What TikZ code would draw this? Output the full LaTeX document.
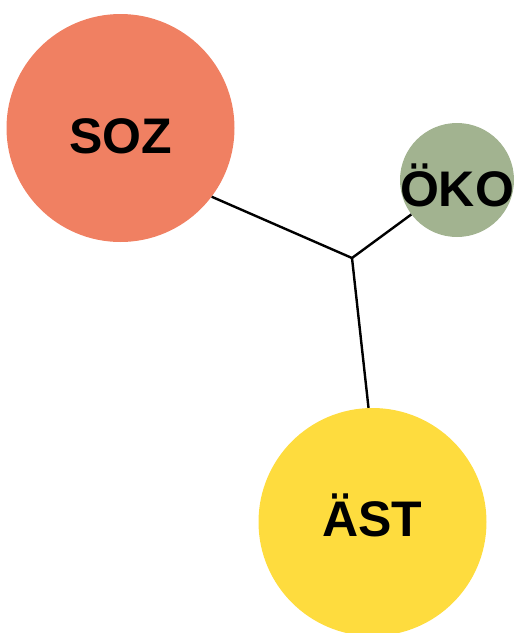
\documentclass[tikz,border=0pt]{standalone}
\usepackage{fontspec}
\setmainfont{Liberation Sans}
\usepackage{tikz}
\usetikzlibrary{positioning}
\definecolor{sozcol}{HTML}{F08062}
\definecolor{okocol}{HTML}{A2B390}
\definecolor{astcol}{HTML}{FEDC3E}

\begin{document}
\begin{tikzpicture}[x=1pt,y=-1pt]
	\useasboundingbox (0,0) rectangle (515,633);
	\tikzset{every node/.style={circle,inner sep=0pt,font=\fontsize{50}{50}\selectfont\bfseries}}
	\node[fill=sozcol,minimum size=228pt,label={[yshift=-8pt]center:SOZ}] (SOZ) at (120.5,128) {};
	\node[fill=okocol,minimum size=114pt,label={[yshift=-5.5pt]center:ÖKO}] (OKO) at (457,180) {};
	\node[fill=astcol,minimum size=228pt,label={[yshift=7pt]center:ÄST}] (AST) at (372.5,522) {};
	\coordinate (J) at (352,258);
	\tikzset{link/.style={-,black,line width=2.4pt}}
	\path
	(J)     edge [link]   (SOZ.-37)
	(J)     edge [link]   (OKO.-143)
	(J)     edge [link]   (AST.92);
\end{tikzpicture}
\end{document}
